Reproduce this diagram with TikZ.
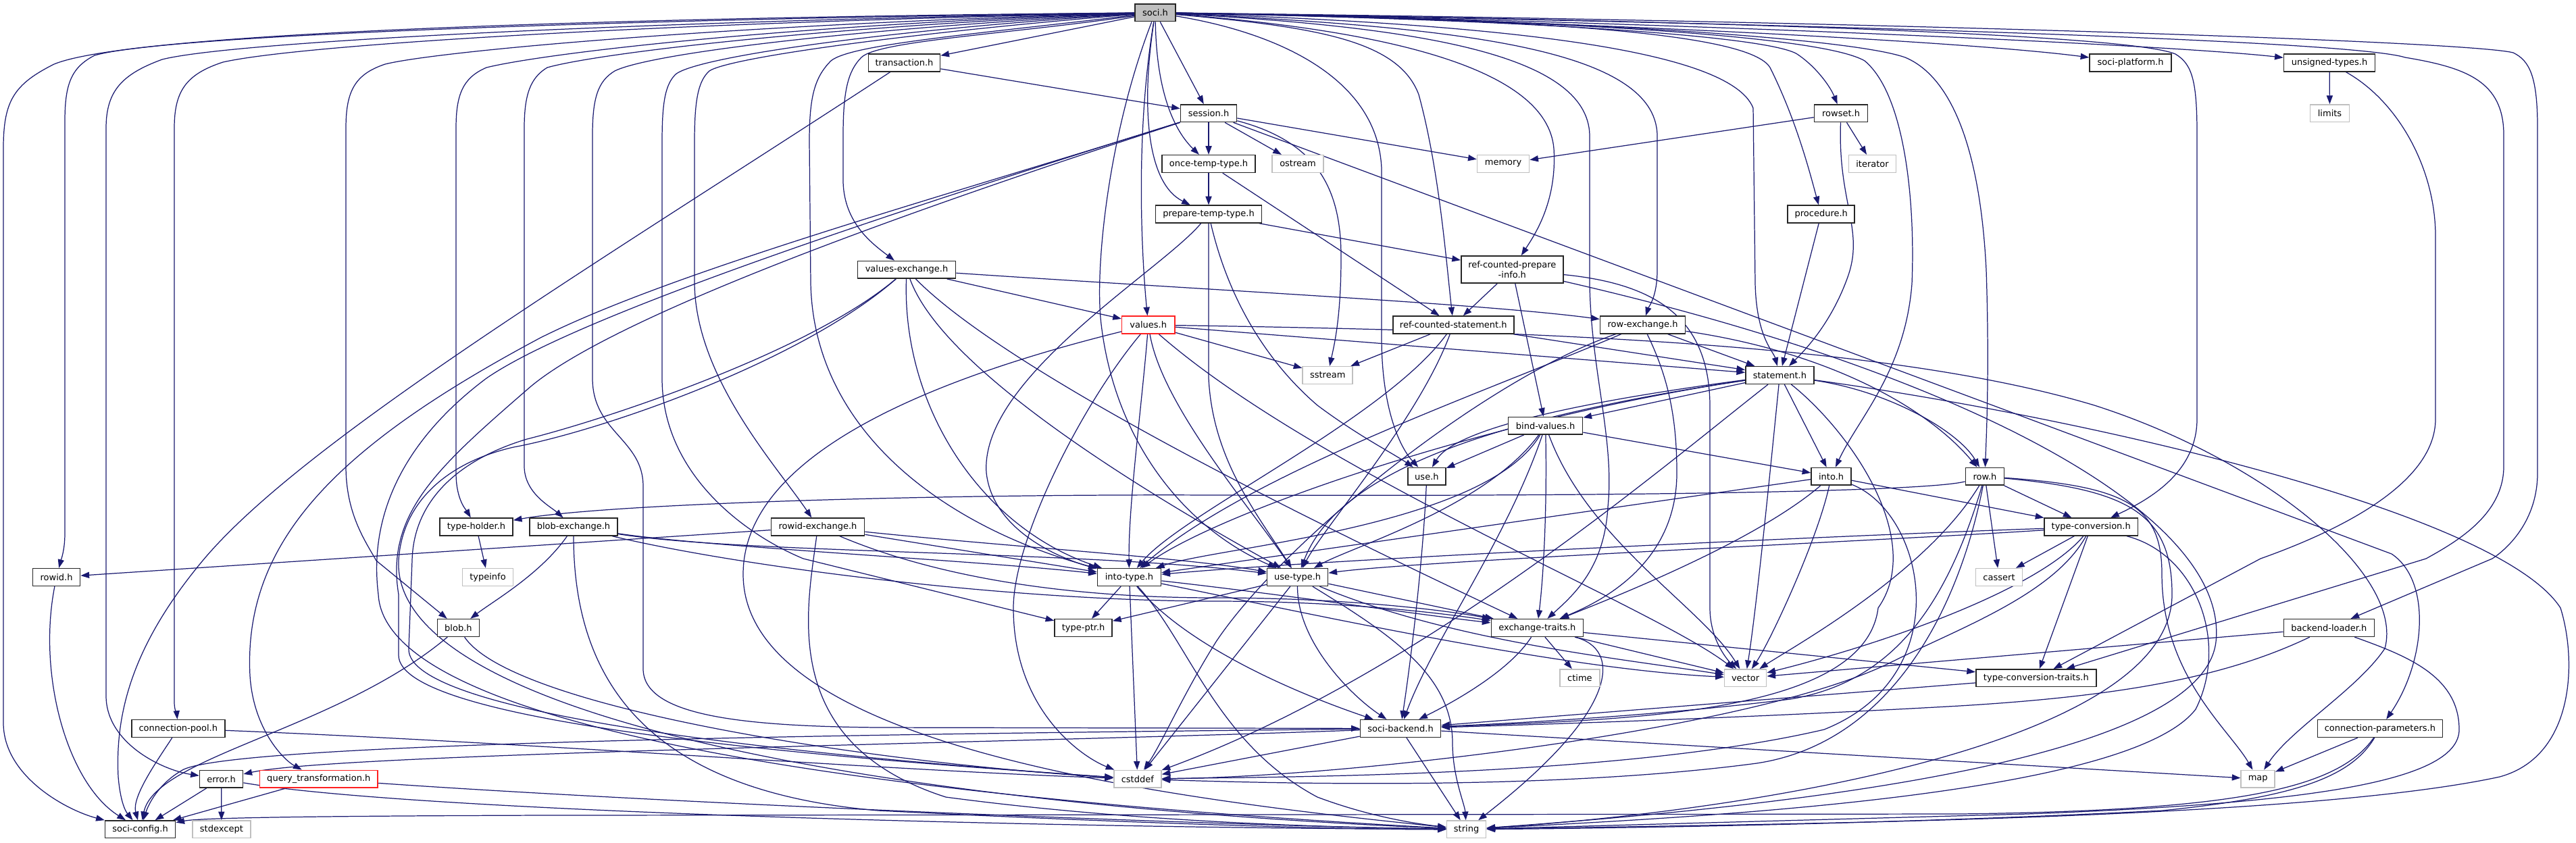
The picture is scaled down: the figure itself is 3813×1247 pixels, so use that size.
\documentclass[tikz,border=0pt]{standalone}
\usepackage{fontspec}
\setmainfont{DejaVu Sans}
\usetikzlibrary{arrows.meta}
\definecolor{edgec}{HTML}{191970}
\definecolor{sysg}{HTML}{BFBFBF}
\definecolor{socig}{HTML}{BFBFBF}
\definecolor{redb}{HTML}{FF2020}
\newcommand\dnodefont{\fontsize{3.7pt}{4.4pt}\selectfont}
\pgfdeclarelayer{bg}
\pgfsetlayers{bg,main}
\tikzset{
 base/.style={rectangle, inner sep=0pt, minimum height=0.257cm, font=\dnodefont, text=black, line width=0.45pt, fill=white},
 hn/.style={base, draw=black!85},
 sn/.style={base, draw=sysg},
 rn/.style={base, draw=redb},
 lnk/.style={draw=edgec, line width=0.35pt, -{Triangle[length=3.6pt,width=2.6pt]}},
}
\begin{document}
\begin{tikzpicture}[x=0.01cm,y=-0.01cm]
\useasboundingbox (0,0) rectangle (3813,1247);
% nodes
\node[hn, fill=socig, minimum width=0.60cm] (soci) at (1710,18.7) {soci.h};
\node[hn, minimum width=1.06cm] (transaction) at (1338.5,93) {transaction.h};
\node[hn, minimum width=1.21cm] (platform) at (3153.6,93) {soci-platform.h};
\node[hn, minimum width=1.35cm] (unsigned) at (3448,93) {unsigned-types.h};
\node[hn, minimum width=0.83cm] (session) at (1789,167.7) {session.h};
\node[hn, minimum width=0.79cm] (rowset) at (2725,167.7) {rowset.h};
\node[sn, minimum width=0.58cm] (limits) at (3448.5,167.7) {limits};
\node[hn, minimum width=1.38cm] (oncetemp) at (1789,242.5) {once-temp-type.h};
\node[sn, minimum width=0.76cm] (ostream) at (1921,242.5) {ostream};
\node[sn, minimum width=0.77cm] (memory) at (2225,242.5) {memory};
\node[sn, minimum width=0.70cm] (iterator) at (2771.5,242.5) {iterator};
\node[hn, minimum width=1.57cm] (preptemp) at (1789,317) {prepare-temp-type.h};
\node[hn, minimum width=0.99cm] (procedure) at (2695.7,317) {procedure.h};
\node[hn, minimum width=1.45cm] (valuesex) at (1342,399.3) {values-exchange.h};
\node[hn, minimum width=1.51cm, minimum height=0.40cm, align=center] (rcpi) at (2238.3,399) {ref-counted-prepare\\-info.h};
\node[rn, minimum width=0.78cm] (values) at (1699.7,481) {values.h};
\node[hn, minimum width=1.79cm] (rcstmt) at (2151.3,481) {ref-counted-statement.h};
\node[hn, minimum width=1.26cm] (rowex) at (2431.5,481) {row-exchange.h};
\node[sn, minimum width=0.74cm] (sstream) at (1965.2,555.5) {sstream};
\node[hn, minimum width=1.01cm] (statement) at (2634.4,555.5) {statement.h};
\node[hn, minimum width=1.10cm] (bindvalues) at (2287.6,630.2) {bind-values.h};
\node[hn, minimum width=0.56cm] (use) at (2111.9,705.3) {use.h};
\node[hn, minimum width=0.59cm] (into) at (2710.6,705.3) {into.h};
\node[hn, minimum width=0.57cm] (row) at (2937.9,705.3) {row.h};
\node[hn, minimum width=1.08cm] (typeholder) at (705,780) {type-holder.h};
\node[hn, minimum width=1.30cm] (blobex) at (849,780) {blob-exchange.h};
\node[hn, minimum width=1.38cm] (rowidex) at (1210.5,780) {rowid-exchange.h};
\node[hn, minimum width=1.38cm] (typeconv) at (3095.2,780) {type-conversion.h};
\node[hn, minimum width=0.70cm] (rowid) at (83.6,854.5) {rowid.h};
\node[sn, minimum width=0.75cm] (typeinfo) at (722,854.5) {typeinfo};
\node[hn, minimum width=0.94cm] (intotype) at (1671.5,854.5) {into-type.h};
\node[hn, minimum width=0.90cm] (usetype) at (1920.6,854.5) {use-type.h};
\node[sn, minimum width=0.69cm] (cassert) at (2959,854.5) {cassert};
\node[hn, minimum width=0.62cm] (blob) at (678.4,929.5) {blob.h};
\node[hn, minimum width=0.85cm] (typeptr) at (1603.6,929.5) {type-ptr.h};
\node[hn, minimum width=1.36cm] (exchtraits) at (2275.3,929.5) {exchange-traits.h};
\node[hn, minimum width=1.34cm] (backendloader) at (3447.3,929.5) {backend-loader.h};
\node[sn, minimum width=0.59cm] (ctime) at (2338.4,1003.8) {ctime};
\node[sn, minimum width=0.62cm] (vector) at (2583.6,1003.8) {vector};
\node[hn, minimum width=1.78cm] (tctraits) at (3013.8,1003.8) {type-conversion-traits.h};
\node[hn, minimum width=1.38cm] (connpool) at (263.8,1078.5) {connection-pool.h};
\node[hn, minimum width=1.19cm] (backend) at (2073,1078.5) {soci-backend.h};
\node[hn, minimum width=1.85cm] (connparams) at (3522.9,1078.5) {connection-parameters.h};
\node[hn, minimum width=0.64cm] (error) at (327.6,1153.2) {error.h};
\node[rn, minimum width=1.745cm] (querytr) at (471.8,1153.2) {query\_transformation.h};
\node[sn, minimum width=0.70cm] (cstddef) at (1683.8,1153.2) {cstddef};
\node[sn, minimum width=0.50cm] (map) at (3342.2,1153.2) {map};
\node[hn, minimum width=1.04cm] (config) at (207.6,1227.8) {soci-config.h};
\node[sn, minimum width=0.86cm] (stdexcept) at (327.9,1227.8) {stdexcept};
\node[sn, minimum width=0.58cm] (string) at (2170.6,1227.8) {string};

\begin{pgfonlayer}{bg}
\fill[white] (0,0) rectangle (3813,1247);
% ---- soci.h ----
\draw[lnk] (soci) .. controls (1000,25) and (200,45) .. (80,95) .. controls (20,125) and (5,150) .. (5,220) -- (5,1070) .. controls (5,1150) and (100,1200) .. (config);
\draw[lnk] (soci) .. controls (1000,27) and (250,50) .. (140,82) .. controls (105,100) and (96,125) .. (96,180) -- (96,790) .. controls (96,815) and (90,830) .. (rowid);
\draw[lnk] (soci) .. controls (1000,30) and (350,60) .. (240,88) .. controls (180,110) and (157,135) .. (157,190) -- (157,1030) .. controls (157,1100) and (240,1140) .. (error);
\draw[lnk] (soci) .. controls (1000,33) and (450,65) .. (330,92) .. controls (275,110) and (258,135) .. (258,190) -- (258,1040) .. controls (258,1050) and (262,1060) .. (connpool);
\draw[lnk] (soci) .. controls (1100,35) and (650,75) .. (570,95) .. controls (525,110) and (512,135) .. (512,190) -- (512,690) .. controls (512,760) and (540,800) .. (557,830) -- (blob);
\draw[lnk] (soci) .. controls (1150,37) and (800,80) .. (720,100) .. controls (685,115) and (675,140) .. (675,190) -- (675,700) .. controls (675,740) and (690,755) .. (typeholder);
\draw[lnk] (soci) .. controls (1200,40) and (880,80) .. (810,100) .. controls (785,115) and (776,140) .. (776,190) -- (776,690) .. controls (776,730) and (815,750) .. (blobex);
\draw[lnk] (soci) .. controls (1250,43) and (960,80) .. (910,105) .. controls (885,120) and (877,145) .. (877,200) -- (877,560) .. controls (877,640) and (952,650) .. (952,720) -- (952,990) .. controls (952,1060) and (1100,1075) .. (1300,1077) -- (backend);
\draw[lnk] (soci) .. controls (1300,45) and (1030,85) .. (1000,110) .. controls (985,125) and (980,150) .. (980,210) -- (980,560) .. controls (980,700) and (1100,790) .. (1189,827) -- (typeptr);
\draw[lnk] (soci) .. controls (1350,48) and (1080,85) .. (1050,105) .. controls (1033,120) and (1028,150) .. (1028,210) -- (1028,420) .. controls (1030,560) and (1150,690) .. (rowidex);
\draw[lnk] (soci) .. controls (1450,50) and (1260,65) .. (1230,90) .. controls (1205,115) and (1198,145) .. (1198,210) -- (1200,420) .. controls (1205,640) and (1400,780) .. (intotype);
\draw[lnk] (soci) .. controls (1500,50) and (1300,60) .. (1275,85) .. controls (1255,105) and (1248,135) .. (1248,200) -- (1248,270) .. controls (1250,330) and (1290,360) .. (valuesex);
\draw[lnk] (soci) -- (transaction);
\draw[lnk] (soci) -- (session);
\draw[lnk] (soci) .. controls (1712,150) and (1745,200) .. (oncetemp);
\draw[lnk] (soci) .. controls (1690,150) and (1695,270) .. (preptemp);
\draw[lnk] (soci) .. controls (1680,200) and (1690,380) .. (values);
\draw[lnk] (soci) .. controls (1640,200) and (1620,400) .. (1630,480) .. controls (1650,650) and (1750,780) .. (usetype);
\draw[lnk] (soci) .. controls (1900,50) and (2040,120) .. (2045,250) -- (2045,500) .. controls (2045,600) and (2070,660) .. (use);
\draw[lnk] (soci) .. controls (1950,40) and (2070,60) .. (2100,140) .. controls (2130,250) and (2140,380) .. (rcstmt);
\draw[lnk] (soci) .. controls (2050,45) and (2290,100) .. (2300,220) .. controls (2305,300) and (2270,350) .. (rcpi);
\draw[lnk] (soci) .. controls (2100,40) and (2350,80) .. (2353,200) -- (2353,420) .. controls (2355,550) and (2390,650) .. (2380,750) .. controls (2375,840) and (2330,880) .. (exchtraits);
\draw[lnk] (soci) .. controls (2150,40) and (2450,70) .. (2453,200) -- (2453,400) .. controls (2453,440) and (2440,455) .. (rowex);
\draw[lnk] (soci) .. controls (2200,35) and (2560,70) .. (2595,160) -- (2598,420) .. controls (2600,500) and (2625,520) .. (statement);
\draw[lnk] (soci) .. controls (2300,28) and (2590,50) .. (2620,100) .. controls (2660,180) and (2680,260) .. (procedure);
\draw[lnk] (soci) .. controls (2300,30) and (2620,55) .. (2660,80) .. controls (2690,100) and (2710,130) .. (rowset);
\draw[lnk] (soci) .. controls (2350,30) and (2700,55) .. (2760,90) .. controls (2820,140) and (2835,300) .. (2830,420) .. controls (2820,550) and (2750,620) .. (into);
\draw[lnk] (soci) .. controls (2400,30) and (2750,60) .. (2820,85) .. controls (2880,110) and (2930,200) .. (2940,400) .. controls (2945,550) and (2940,650) .. (row);
\draw[lnk] (soci) .. controls (2500,30) and (3150,50) .. (3220,80) .. controls (3245,95) and (3252,120) .. (3252,200) -- (3252,620) .. controls (3252,700) and (3180,740) .. (typeconv);
\draw[lnk] (soci) .. controls (2300,30) and (2900,60) .. (platform);
\draw[lnk] (soci) .. controls (2400,30) and (3200,65) .. (unsigned);
\draw[lnk] (soci) .. controls (2700,35) and (3480,60) .. (3560,85) .. controls (3650,100) and (3706,120) .. (3706,200) -- (3706,690) .. controls (3706,760) and (3640,800) .. (3591,827) -- (tctraits);
\draw[lnk] (soci) .. controls (2700,30) and (3650,60) .. (3720,78) .. controls (3745,90) and (3756,115) .. (3756,190) -- (3756,700) .. controls (3756,780) and (3700,820) .. (3689,827) -- (backendloader);
% ---- transaction.h ----
\draw[lnk] (transaction) -- (session);
\draw[lnk] (transaction) .. controls (900,380) and (450,650) .. (300,830) .. controls (200,950) and (170,1050) .. (175,1150) .. controls (178,1185) and (185,1200) .. (config);
% ---- session.h ----
\draw[lnk] (session) -- (oncetemp);
\draw[lnk] (session) -- (ostream);
\draw[lnk] (session) -- (memory);
\draw[lnk] (session) .. controls (1950,210) and (1985,280) .. (1985,380) .. controls (1985,470) and (1975,510) .. (sstream);
\draw[lnk] (session) -- (3540,820) .. controls (3600,860) and (3590,980) .. (connparams);
\draw[lnk] (session) .. controls (1400,290) and (1000,400) .. (800,500) .. controls (500,660) and (360,800) .. (370,1000) .. controls (375,1080) and (420,1125) .. (querytr);
\draw[lnk] (session) .. controls (1350,310) and (900,470) .. (780,577) .. controls (650,690) and (570,760) .. (590,880) -- (590,970) .. controls (590,1070) and (1200,1120) .. (cstddef);
\draw[lnk] (session) .. controls (1300,320) and (850,470) .. (720,560) .. controls (600,650) and (545,760) .. (560,880) .. controls (570,1080) and (1300,1180) .. (string);
% ---- rowset.h / unsigned / procedure ----
\draw[lnk] (rowset) -- (memory);
\draw[lnk] (rowset) -- (iterator);
\draw[lnk] (rowset) .. controls (2720,300) and (2760,340) .. (2735,410) .. controls (2710,480) and (2670,520) .. (statement);
\draw[lnk] (unsigned) -- (limits);
\draw[lnk] (unsigned) .. controls (3550,150) and (3605,250) .. (3605,350) -- (3605,620) .. controls (3605,720) and (3450,790) .. (3346,827) -- (tctraits);
\draw[lnk] (procedure) -- (statement);
% ---- once / prepare ----
\draw[lnk] (oncetemp) -- (preptemp);
\draw[lnk] (oncetemp) -- (rcstmt);
\draw[lnk] (preptemp) -- (rcpi);
\draw[lnk] (preptemp) .. controls (1720,400) and (1450,560) .. (1460,700) .. controls (1470,790) and (1580,830) .. (intotype);
\draw[lnk] (preptemp) -- (1789,560) .. controls (1795,680) and (1860,760) .. (usetype);
\draw[lnk] (preptemp) .. controls (1820,450) and (1880,540) .. (1950,600) .. controls (2010,645) and (2060,670) .. (use);
% ---- values-exchange.h ----
\draw[lnk] (valuesex) -- (values);
\draw[lnk] (valuesex) .. controls (1800,430) and (2200,450) .. (rowex);
\draw[lnk] (valuesex) .. controls (1335,600) and (1450,780) .. (intotype);
\draw[lnk] (valuesex) .. controls (1400,560) and (1750,760) .. (usetype);
\draw[lnk] (valuesex) .. controls (1500,560) and (2000,800) .. (exchtraits);
\draw[lnk] (valuesex) .. controls (1200,520) and (900,620) .. (780,650) .. controls (680,680) and (612,740) .. (610,830) -- (605,960) .. controls (600,1060) and (1200,1120) .. (cstddef);
\draw[lnk] (valuesex) .. controls (1180,540) and (880,640) .. (760,662) .. controls (660,685) and (595,745) .. (590,830) .. controls (580,1060) and (1300,1190) .. (string);
% ---- values.h ----
\draw[lnk] (values) -- (statement);
\draw[lnk] (values) -- (sstream);
\draw[lnk] (values) .. controls (1690,600) and (1670,750) .. (intotype);
\draw[lnk] (values) .. controls (1720,600) and (1850,750) .. (usetype);
\draw[lnk] (values) .. controls (1950,700) and (2450,900) .. (vector);
\draw[lnk] (values) .. controls (1600,600) and (1500,800) .. (1500,900) .. controls (1500,1050) and (1600,1120) .. (cstddef);
\draw[lnk] (values) .. controls (1300,580) and (1100,700) .. (1100,850) .. controls (1100,1100) and (1700,1180) .. (string);
\draw[lnk] (values) .. controls (2300,490) and (2800,510) .. (3100,600) .. controls (3350,680) and (3560,850) .. (3530,960) .. controls (3490,1020) and (3390,1080) .. (map);
% ---- ref-counted-prepare-info.h ----
\draw[lnk] (rcpi) -- (rcstmt);
\draw[lnk] (rcpi) -- (bindvalues);
\draw[lnk] (rcpi) .. controls (2450,420) and (2530,470) .. (2531,600) -- (2531,900) .. controls (2531,950) and (2560,980) .. (vector);
\draw[lnk] (rcpi) .. controls (2900,550) and (3300,760) .. (3280,950) .. controls (3260,1120) and (2700,1190) .. (string);
% ---- ref-counted-statement.h ----
\draw[lnk] (rcstmt) -- (sstream);
\draw[lnk] (rcstmt) -- (statement);
\draw[lnk] (rcstmt) .. controls (2050,620) and (1750,760) .. (intotype);
\draw[lnk] (rcstmt) .. controls (2100,620) and (1960,780) .. (usetype);
% ---- row-exchange.h ----
\draw[lnk] (rowex) -- (statement);
\draw[lnk] (rowex) .. controls (2700,520) and (2850,600) .. (row);
\draw[lnk] (rowex) .. controls (2470,560) and (2482,620) .. (2482,700) .. controls (2482,800) and (2420,870) .. (exchtraits);
\draw[lnk] (rowex) .. controls (2200,580) and (1850,700) .. (intotype);
\draw[lnk] (rowex) .. controls (2200,560) and (1900,800) .. (1800,950) .. controls (1750,1030) and (1720,1100) .. (cstddef);
% ---- statement.h ----
\draw[lnk] (statement) -- (bindvalues);
\draw[lnk] (statement) -- (into);
\draw[lnk] (statement) .. controls (2800,580) and (2900,640) .. (row);
\draw[lnk] (statement) .. controls (2300,600) and (2150,640) .. (use);
\draw[lnk] (statement) .. controls (2200,620) and (1800,760) .. (intotype);
\draw[lnk] (statement) .. controls (2200,620) and (1980,700) .. (usetype);
\draw[lnk] (statement) .. controls (2620,700) and (2600,900) .. (vector);
\draw[lnk] (statement) .. controls (2740,640) and (2850,800) .. (2780,900) .. controls (2760,1060) and (2400,1065) .. (backend);
\draw[lnk] (statement) .. controls (2450,700) and (2100,1000) .. (cstddef);
\draw[lnk] (statement) .. controls (3100,620) and (3700,760) .. (3790,900) .. controls (3815,980) and (3810,1120) .. (3700,1150) .. controls (3400,1215) and (2600,1220) .. (string);
% ---- bind-values.h ----
\draw[lnk] (bindvalues) -- (use);
\draw[lnk] (bindvalues) -- (into);
\draw[lnk] (bindvalues) .. controls (2200,780) and (1800,810) .. (intotype);
\draw[lnk] (bindvalues) .. controls (2200,750) and (2000,810) .. (usetype);
\draw[lnk] (bindvalues) .. controls (2290,750) and (2285,850) .. (exchtraits);
\draw[lnk] (bindvalues) .. controls (2230,800) and (2120,950) .. (backend);
\draw[lnk] (bindvalues) .. controls (2350,800) and (2520,900) .. (vector);
% ---- use.h / into.h ----
\draw[lnk] (use) .. controls (2105,850) and (2085,1000) .. (backend);
\draw[lnk] (into) -- (intotype);
\draw[lnk] (into) .. controls (2600,800) and (2400,880) .. (exchtraits);
\draw[lnk] (into) -- (typeconv);
\draw[lnk] (into) .. controls (2690,800) and (2620,950) .. (vector);
\draw[lnk] (into) .. controls (2850,760) and (2900,1000) .. (2700,1080) .. controls (2400,1150) and (1900,1150) .. (cstddef);
% ---- row.h ----
\draw[lnk] (row) .. controls (2850,728) and (2400,735) .. (1800,733) .. controls (1400,731) and (900,745) .. (typeholder);
\draw[lnk] (row) -- (typeconv);
\draw[lnk] (row) -- (cassert);
\draw[lnk] (row) .. controls (2880,900) and (2800,1010) .. (2650,1035) .. controls (2450,1060) and (2250,1070) .. (backend);
\draw[lnk] (row) .. controls (2850,850) and (2650,960) .. (vector);
\draw[lnk] (row) .. controls (2900,900) and (2800,1100) .. (2600,1130) .. controls (2300,1170) and (1900,1160) .. (cstddef);
\draw[lnk] (row) .. controls (3150,720) and (3200,750) .. (3200,850) .. controls (3200,1000) and (3300,1080) .. (map);
\draw[lnk] (row) .. controls (3150,725) and (3215,760) .. (3215,880) .. controls (3215,1100) and (2600,1200) .. (string);
% ---- type-holder / blob-exchange / rowid-exchange ----
\draw[lnk] (typeholder) -- (typeinfo);
\draw[lnk] (blobex) .. controls (1050,810) and (1450,830) .. (intotype);
\draw[lnk] (blobex) .. controls (1100,820) and (1600,815) .. (usetype);
\draw[lnk] (blobex) .. controls (1100,840) and (1500,890) .. (1800,890) .. controls (2000,890) and (2150,910) .. (exchtraits);
\draw[lnk] (blobex) .. controls (800,850) and (730,890) .. (blob);
\draw[lnk] (blobex) .. controls (849,1000) and (950,1170) .. (1300,1200) .. controls (1700,1220) and (2000,1228) .. (string);
\draw[lnk] (rowidex) -- (rowid);
\draw[lnk] (rowidex) -- (intotype);
\draw[lnk] (rowidex) .. controls (1500,810) and (1750,825) .. (usetype);
\draw[lnk] (rowidex) .. controls (1400,860) and (1600,885) .. (1800,885) .. controls (2000,885) and (2150,905) .. (exchtraits);
\draw[lnk] (rowidex) .. controls (1195,900) and (1150,1100) .. (1400,1180) .. controls (1700,1220) and (2000,1225) .. (string);
% ---- type-conversion.h ----
\draw[lnk] (typeconv) .. controls (2800,790) and (2000,825) .. (intotype);
\draw[lnk] (typeconv) .. controls (2800,800) and (2100,830) .. (usetype);
\draw[lnk] (typeconv) -- (tctraits);
\draw[lnk] (typeconv) -- (cassert);
\draw[lnk] (typeconv) .. controls (3020,870) and (2800,950) .. (vector);
\draw[lnk] (typeconv) .. controls (3040,880) and (2900,930) .. (2800,980) .. controls (2600,1080) and (2000,1150) .. (cstddef);
\draw[lnk] (typeconv) .. controls (3250,820) and (3300,950) .. (3250,1050) .. controls (3150,1180) and (2500,1210) .. (string);
% ---- into-type.h / use-type.h ----
\draw[lnk] (intotype) -- (typeptr);
\draw[lnk] (intotype) -- (cstddef);
\draw[lnk] (intotype) .. controls (1750,950) and (1900,1020) .. (backend);
\draw[lnk] (intotype) .. controls (1900,880) and (2100,910) .. (exchtraits);
\draw[lnk] (intotype) .. controls (1900,900) and (2300,990) .. (vector);
\draw[lnk] (intotype) .. controls (1760,950) and (1800,1100) .. (1950,1180) .. controls (2030,1210) and (2100,1220) .. (string);
\draw[lnk] (usetype) -- (typeptr);
\draw[lnk] (usetype) .. controls (1920,950) and (2000,1030) .. (backend);
\draw[lnk] (usetype) -- (exchtraits);
\draw[lnk] (usetype) -- (cstddef);
\draw[lnk] (usetype) .. controls (2060,940) and (2150,1000) .. (2150,1100) .. controls (2150,1150) and (2168,1190) .. (string);
\draw[lnk] (usetype) .. controls (2150,950) and (2400,975) .. (vector);
% ---- blob.h / exchange-traits.h ----
\draw[lnk] (blob) .. controls (500,1080) and (230,1120) .. (config);
\draw[lnk] (blob) .. controls (760,1050) and (1300,1130) .. (cstddef);
\draw[lnk] (exchtraits) .. controls (2230,1000) and (2130,1050) .. (backend);
\draw[lnk] (exchtraits) -- (ctime);
\draw[lnk] (exchtraits) -- (vector);
\draw[lnk] (exchtraits) .. controls (2400,960) and (2400,1050) .. (string);
\draw[lnk] (exchtraits) -- (tctraits);
% ---- backend-loader / tctraits ----
\draw[lnk] (backendloader) .. controls (3300,1000) and (3150,1030) .. (2900,1045) .. controls (2600,1062) and (2300,1072) .. (backend);
\draw[lnk] (backendloader) -- (vector);
\draw[lnk] (backendloader) .. controls (3560,970) and (3640,1000) .. (3640,1080) .. controls (3640,1160) and (3400,1190) .. (3000,1205) -- (string);
\draw[lnk] (tctraits) -- (backend);
% ---- connection-pool / soci-backend ----
\draw[lnk] (connpool) .. controls (230,1130) and (195,1180) .. (config);
\draw[lnk] (connpool) .. controls (800,1100) and (1300,1140) .. (cstddef);
\draw[lnk] (backend) .. controls (1500,1100) and (500,1115) .. (error);
\draw[lnk] (backend) .. controls (1500,1085) and (350,1095) .. (270,1140) .. controls (235,1160) and (220,1190) .. (config);
\draw[lnk] (backend) -- (cstddef);
\draw[lnk] (backend) -- (map);
\draw[lnk] (backend) -- (string);
% ---- connection-parameters ----
\draw[lnk] (connparams) -- (map);
\draw[lnk] (connparams) .. controls (3480,1150) and (3400,1180) .. (3200,1200) .. controls (2800,1220) and (2400,1226) .. (string);
\draw[lnk] (connparams) .. controls (3460,1170) and (3300,1200) .. (2900,1205) -- (800,1207) .. controls (500,1208) and (300,1210) .. (config);
% ---- error / query_transformation / rowid ----
\draw[lnk] (error) -- (config);
\draw[lnk] (error) -- (stdexcept);
\draw[lnk] (error) .. controls (600,1200) and (1500,1225) .. (string);
\draw[lnk] (querytr) -- (config);
\draw[lnk] (querytr) .. controls (1000,1190) and (1800,1222) .. (string);
\draw[lnk] (rowid) .. controls (55,1000) and (100,1160) .. (config);
\end{pgfonlayer}
\end{tikzpicture}
\end{document}
